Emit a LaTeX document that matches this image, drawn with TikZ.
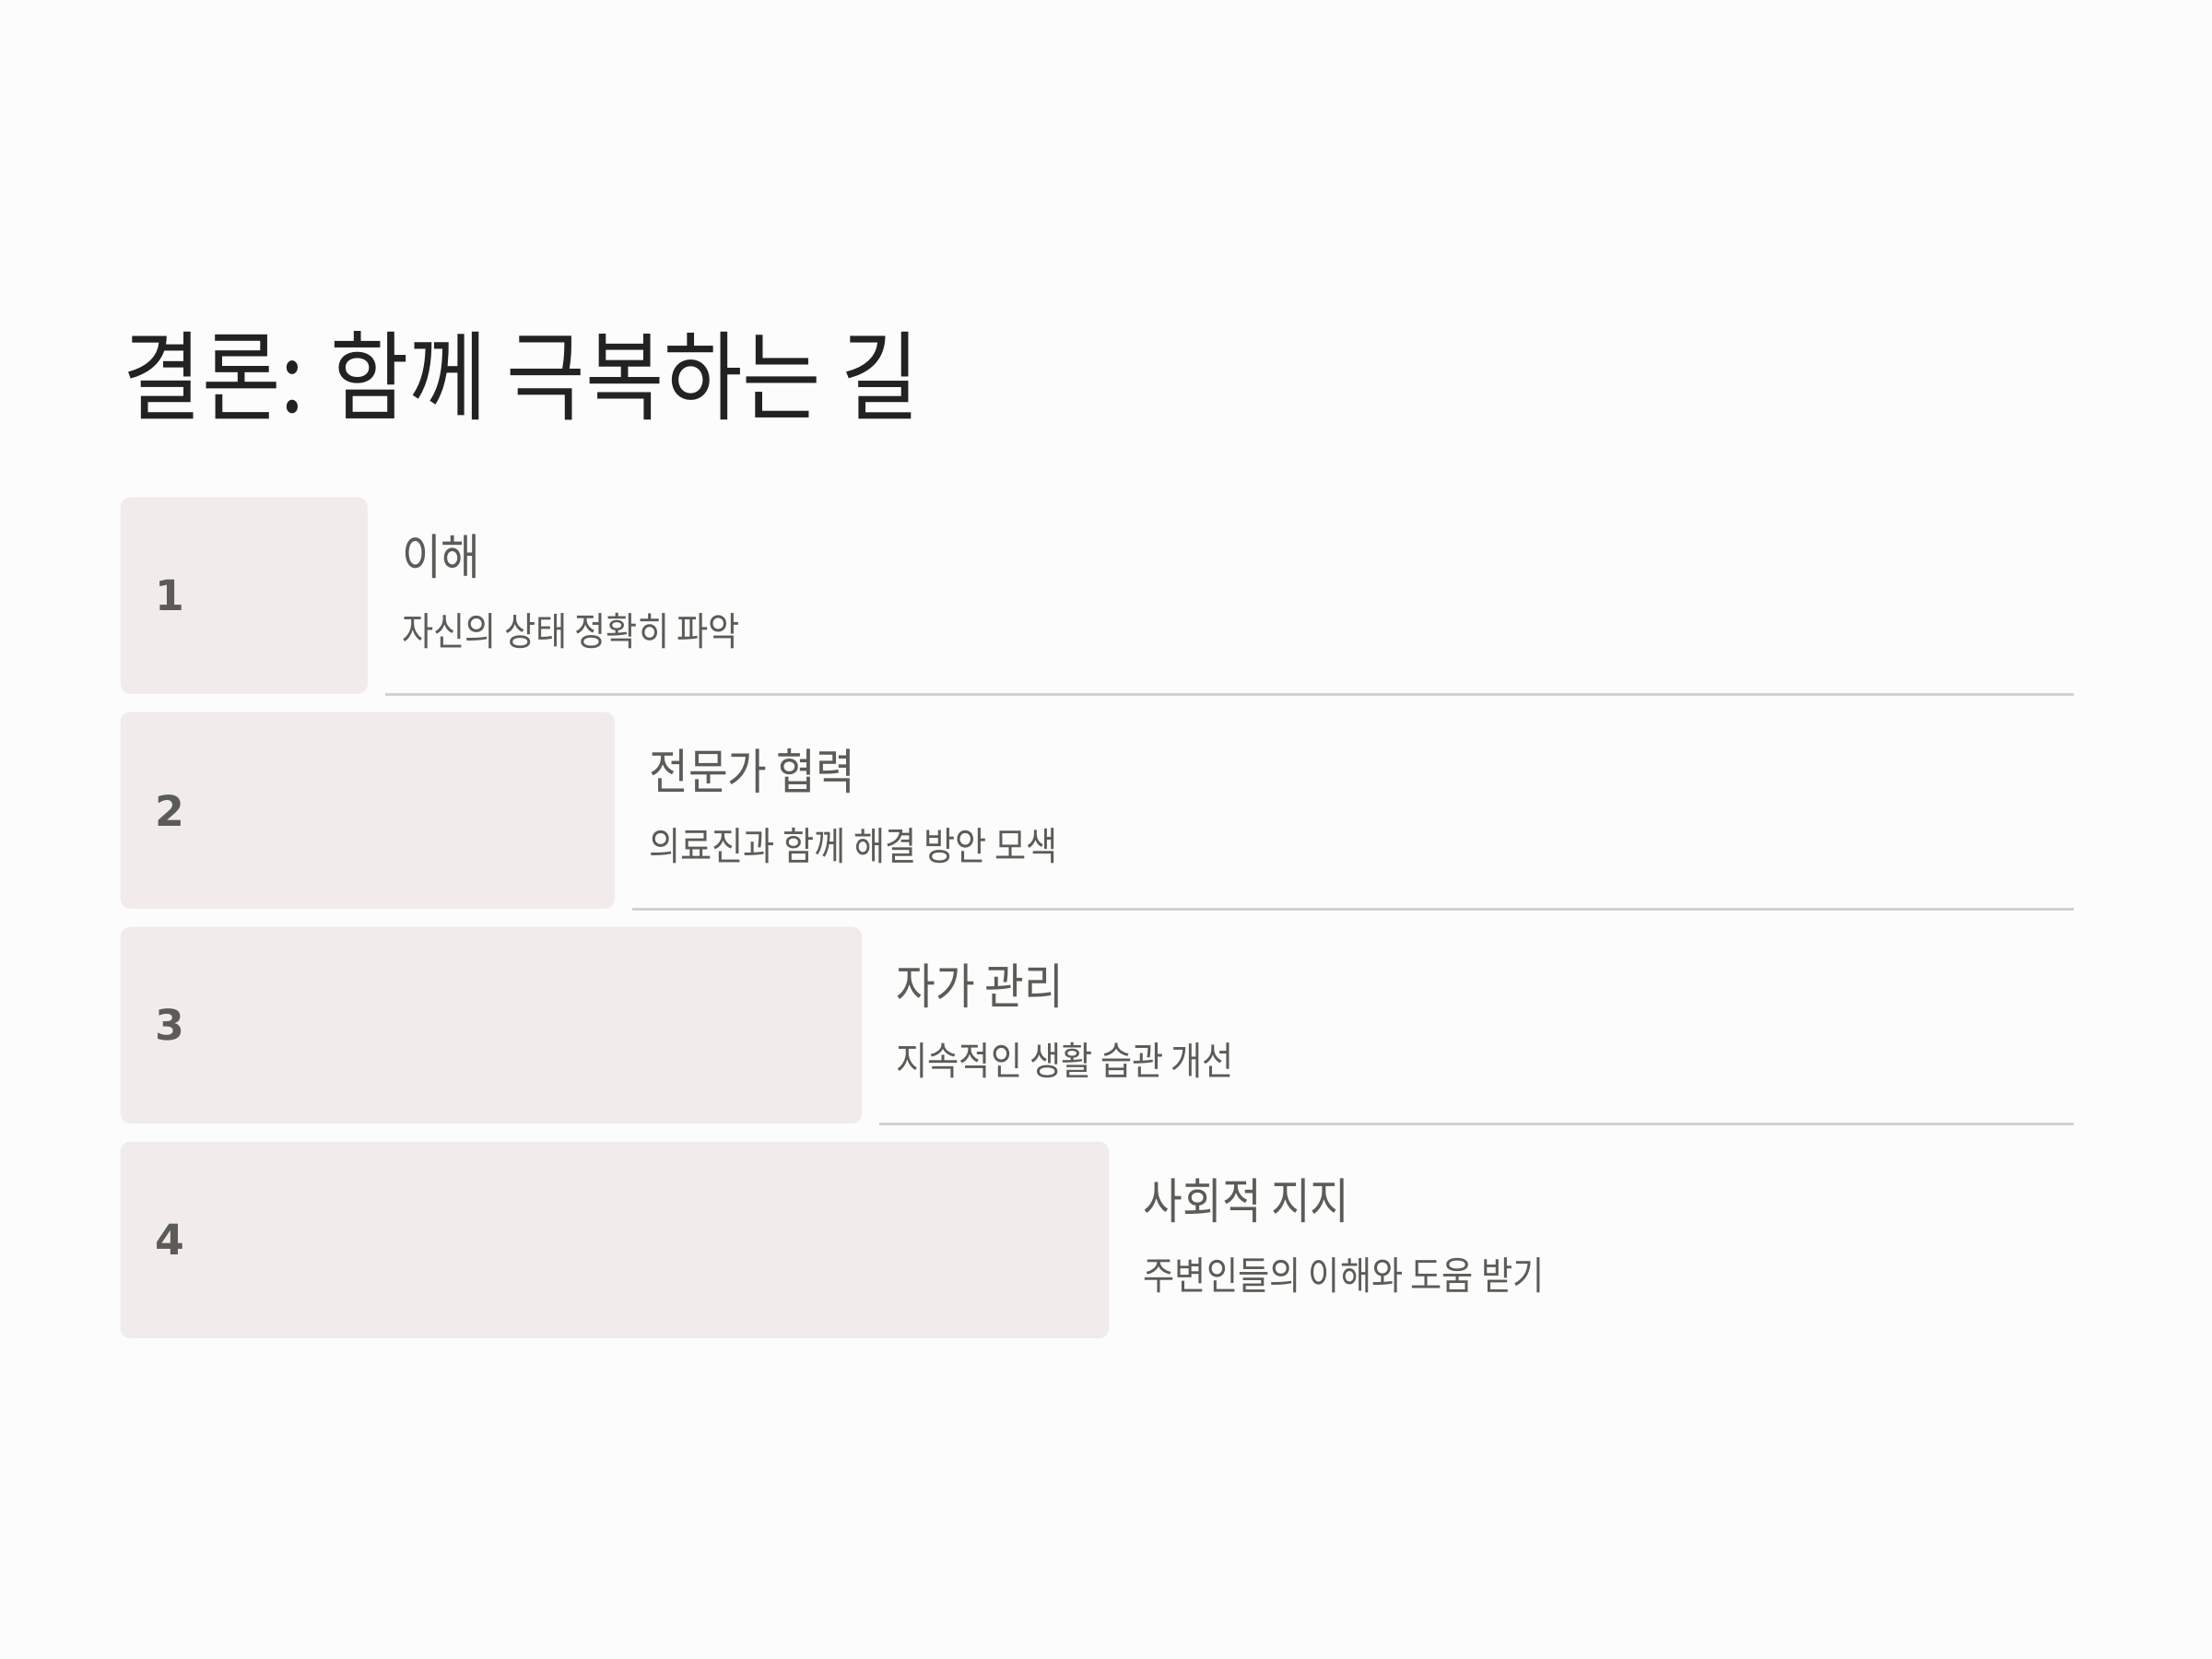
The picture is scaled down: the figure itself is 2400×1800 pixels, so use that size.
\documentclass[tikz,border=0pt]{standalone}
\usepackage{fontspec}
\setmainfont{Noto Sans CJK KR}[FakeStretch=0.88]
\newfontfamily\numfont{DejaVu Sans}
\usetikzlibrary{positioning,calc}
\definecolor{bgcol}{HTML}{FCFCFC}
\definecolor{boxcol}{HTML}{F1EBEB}
\definecolor{titlecol}{HTML}{222222}
\definecolor{textcol}{HTML}{5C5C57}
\definecolor{rulecol}{HTML}{D5D0D0}
\begin{document}
\begin{tikzpicture}
[x=0.01cm,y=-0.01cm,
%
stepbox/.style={shape=rectangle,fill=boxcol,rounded corners=3pt,inner sep=0pt,
  minimum height=2.13cm,anchor=north west},
stepnum/.style={anchor=west,inner sep=0pt,text=textcol,font=\numfont\bfseries\fontsize{13}{15}\selectfont},
heading/.style={anchor=west,inner sep=0pt,text=textcol,font=\fontsize{15}{18}\selectfont},
desc/.style={anchor=west,inner sep=0pt,text=textcol,font=\fontsize{12}{14}\selectfont},
%
sepline/.style={draw=rulecol,line width=1pt}]
%
%% background
\fill[bgcol] (0,0) rectangle (2400,1800);
\useasboundingbox (0,0) rectangle (2400,1800);
%
%% title
\node (title) [anchor=base west,inner sep=0pt,text=titlecol,font=\fontsize{30}{36}\selectfont]
  at (133,447) {결론: 함께 극복하는 길};
%
%% steps
\def\sep{233}
\foreach \i/\head/\desc in {1/이해/자신의 상태 정확히 파악,
                            2/전문가 협력/의료진과 함께 해결 방안 모색,
                            3/자가 관리/지속적인 생활 습관 개선,
                            4/사회적 지지/주변인들의 이해와 도움 받기}
{
\node (b\i) [stepbox,minimum width=\i*2.68cm] at (130,{539+\sep*(\i-1)}) {};
\node (n\i) [stepnum] at ($(b\i.west)+(38,0)$) {\i};
\node (h\i) [heading] at ($(b\i.north east)+(36,65)$) {\head};
\node (d\i) [desc] at ($(b\i.north east)+(36,146)$) {\desc};
}
%
%% separator lines under rows 1 to 3
\foreach \i in {1,...,3}
{
\coordinate (s\i) at ($(b\i.south east)+(18,0)$);
\coordinate (e\i) at (s\i -| 2250,0);
\draw[sepline] (s\i) -- (e\i);
}
\end{tikzpicture}
\end{document}
